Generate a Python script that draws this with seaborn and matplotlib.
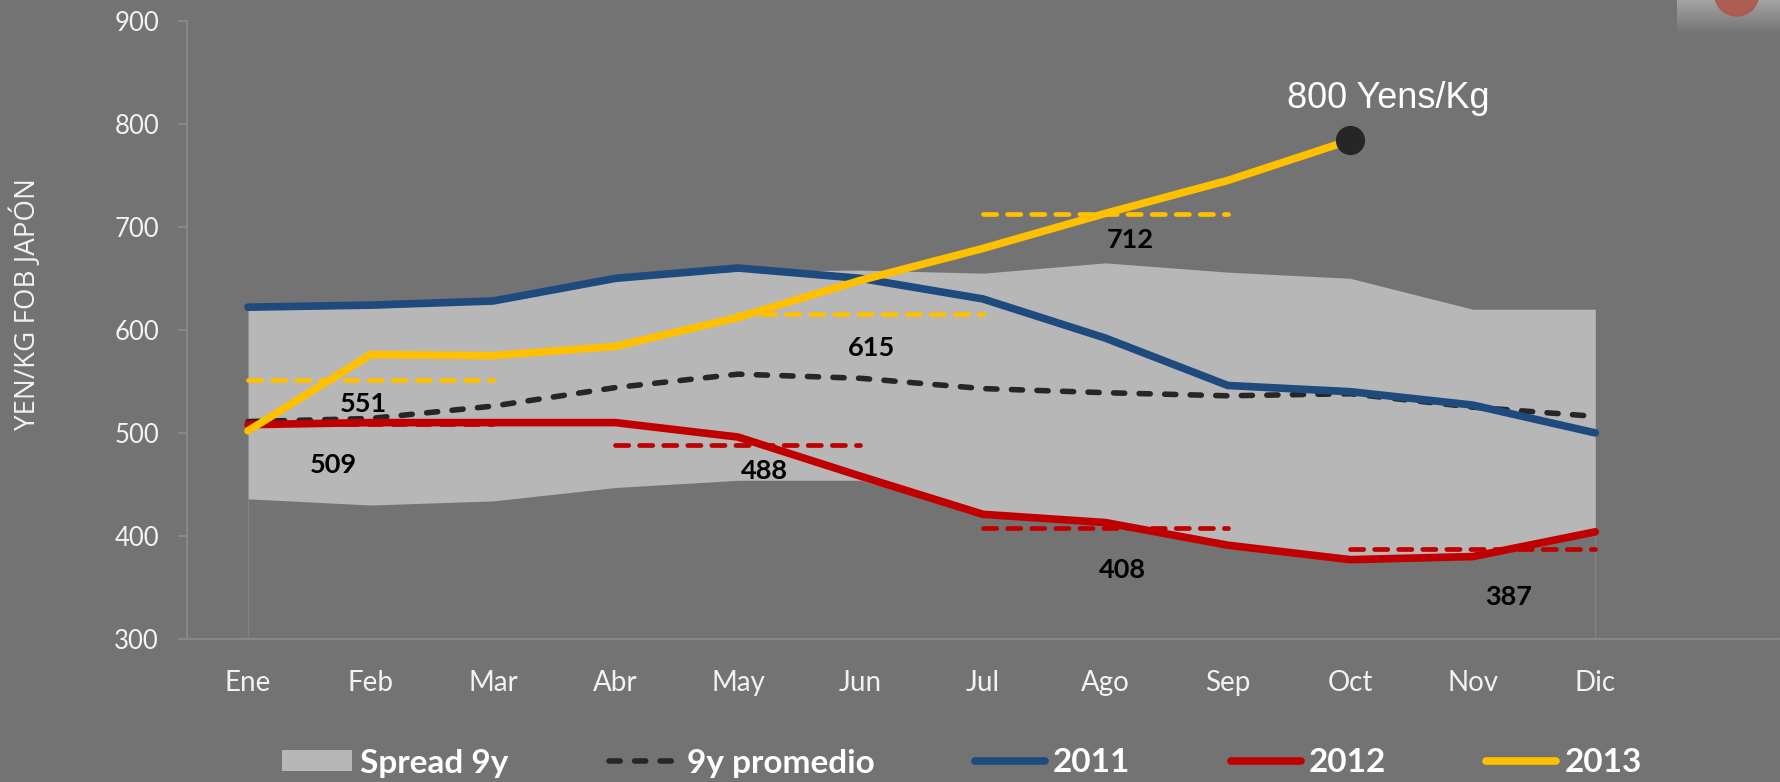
import numpy as np
import pandas as pd
import matplotlib
matplotlib.use("Agg")
import matplotlib.pyplot as plt
from matplotlib.lines import Line2D
from matplotlib.patches import Patch, Ellipse
import seaborn as sns

# ---------------- data ----------------
months = ["Ene", "Feb", "Mar", "Abr", "May", "Jun", "Jul", "Ago", "Sep", "Oct", "Nov", "Dic"]
spread_low = [436, 430, 434, 447, 454, 454, 421, 413, 390, 377, 380, 403]
spread_high = [620, 621, 626, 648, 657, 658, 655, 665, 656, 650, 620, 620]
prom_9y = [511, 514, 526, 544, 557, 553, 543, 539, 536, 538, 525, 516]
s2011 = [622, 624, 628, 650, 660, 650, 630, 592, 546, 540, 527, 500]
s2012 = [508, 510, 510, 510, 496, 458, 421, 413, 391, 377, 380, 404]
s2013 = [502, 576, 575, 584, 612, 648, 679, 713, 745, 784]
q2013 = [551, 615, 712]
q2012 = [509, 488, 408, 387]
last_label = "800 Yens/Kg"
ylabel = "YEN/KG FOB JAPÓN"
legend_labels = ["Spread 9y", "9y promedio", "2011", "2012", "2013"]
yticks = [300, 400, 500, 600, 700, 800, 900]

# ---------------- layout (positions / styles) ----------------
q2013_spans = [(0, 2), (4, 6), (6, 8)]
q2012_spans = [(0, 2), (3, 5), (6, 8), (9, 11)]
q2013_lbl_pos = [(0.94, 528), (5.09, 582), (7.2, 687)]
q2012_lbl_pos = [(0.70, 469), (4.22, 463), (7.14, 367), (10.29, 341)]

BG = "#737373"
SPREAD = "#b7b7b7"
BLUE = "#1f4a7e"
RED = "#c00000"
YEL = "#ffc000"
DARK = "#262626"
AXC = "#8c8c8c"
TXT = "#f2f2f2"
LW = 5.5

sns.set_style("white")
plt.rcParams["font.family"] = ["Lato", "DejaVu Sans"]

fig = plt.figure(figsize=(17.8, 7.82), dpi=100, facecolor=BG)
ax = fig.add_axes([186.8 / 1780, 143 / 782, (1779 - 186.8) / 1780, (639 - 20.7) / 782])
ax.set_facecolor(BG)

idx = np.arange(len(months))
df = pd.DataFrame({"x": idx, "low": spread_low, "high": spread_high,
                   "prom": prom_9y, "s2011": s2011, "s2012": s2012})
df13 = pd.DataFrame({"x": idx[:len(s2013)], "v": s2013})

# spread band
ax.fill_between(df["x"], df["low"], df["high"], color=SPREAD, lw=0, zorder=1)
ax.vlines([idx[0], idx[-1]], 300, [spread_low[0], spread_low[-1]], color="#828282", lw=1, zorder=1)

# 9y average
sns.lineplot(data=df, x="x", y="prom", ax=ax, color=DARK, lw=4.0, zorder=3)
ax.lines[-1].set_dashes([2.0, 2.6])
ax.lines[-1].set_dash_capstyle("round")

# quarterly means
for v, (a, b) in zip(q2012, q2012_spans):
    ax.plot([a, b], [v, v], color=RED, lw=3.4, dashes=[2.8, 2.3], dash_capstyle="round", zorder=2.5)
for v, (a, b) in zip(q2013, q2013_spans):
    ax.plot([a, b], [v, v], color=YEL, lw=3.4, dashes=[2.8, 2.3], dash_capstyle="round", zorder=2.5)

sns.lineplot(data=df, x="x", y="s2011", ax=ax, color=BLUE, lw=LW, zorder=4)
sns.lineplot(data=df, x="x", y="s2012", ax=ax, color=RED, lw=LW, zorder=4)
sns.lineplot(data=df13, x="x", y="v", ax=ax, color=YEL, lw=LW, zorder=5)
for ln in ax.lines:
    ln.set_solid_capstyle("round")

# end marker
ax.plot([df13["x"].iloc[-1]], [s2013[-1]], "o", ms=20, color=DARK, zorder=6)
ax.text(9.31, 815, last_label, color="white", fontsize=26, ha="center", va="baseline",
        family=["Liberation Sans", "DejaVu Sans"], zorder=7)

# quarter labels
for v, (x, y) in zip(q2013, q2013_lbl_pos):
    ax.text(x, y, f"{v}", fontsize=19.5, fontweight="bold", color="black", ha="center", va="center", zorder=7)
for v, (x, y) in zip(q2012, q2012_lbl_pos):
    ax.text(x, y, f"{v}", fontsize=19.5, fontweight="bold", color="black", ha="center", va="center", zorder=7)

# axes
ax.set_xlim(-0.5, 12.5)
ax.set_ylim(300, 900)
ax.set_yticks(yticks)
ax.set_yticklabels([str(t) for t in yticks])
ax.set_xticks(idx)
ax.set_xticklabels(months)
ax.set_xticks(np.arange(-0.5, 12.6, 1), minor=True)
ax.tick_params(axis="x", which="major", length=0, pad=22, colors=TXT, labelsize=20)
ax.tick_params(axis="x", which="minor", length=6.5, width=1.2, color=AXC, direction="out")
ax.tick_params(axis="y", which="major", length=6.5, width=1.2, color=AXC, pad=13.5,
               labelcolor=TXT, labelsize=18.5, left=True)
ax.set_xlabel("")
ax.set_ylabel("")
for s in ["top", "right"]:
    ax.spines[s].set_visible(False)
for s in ["left", "bottom"]:
    ax.spines[s].set_visible(True)
    ax.spines[s].set_color(AXC)
    ax.spines[s].set_linewidth(1.2)
ax.grid(False)

fig.text(26.7 / 1780, 1 - 304 / 782, ylabel, rotation=90, ha="center", va="center",
         color=TXT, fontsize=20, family=["Open Sans", "DejaVu Sans"])

# legend
handles = [
    Patch(facecolor=SPREAD, edgecolor="none"),
    Line2D([], [], color=DARK, lw=4.0, dashes=[2.0, 2.6], dash_capstyle="round"),
    Line2D([], [], color=BLUE, lw=LW, solid_capstyle="round"),
    Line2D([], [], color=RED, lw=LW, solid_capstyle="round"),
    Line2D([], [], color=YEL, lw=LW, solid_capstyle="round"),
]
leg = fig.legend(handles, legend_labels, loc="center", bbox_to_anchor=(962 / 1780, 1 - 763 / 782),
                 ncol=5, frameon=False, handlelength=2.1, handleheight=0.6, handletextpad=0.25,
                 columnspacing=3.0, prop={"family": "Lato", "weight": "bold", "size": 24})
for t in leg.get_texts():
    t.set_color("white")

# top-right decoration
deco = fig.add_axes([1677 / 1780, 1 - 34 / 782, 103 / 1780, 34 / 782])
grad = np.linspace(0, 1, 50)[:, None] * np.ones((1, 50))
rgba = np.zeros((50, 50, 4))
rgba[..., :3] = 0.80
rgba[..., 3] = (1 - grad) * 0.55
deco.imshow(rgba, aspect="auto", extent=[0, 1, 0, 1], origin="upper")
deco.add_patch(Ellipse((0.58, 1 + 6 / 34), 44 / 103, 44 / 34, transform=deco.transAxes,
                       color="#b0574b", alpha=0.9, clip_on=False))
deco.set_xlim(0, 1); deco.set_ylim(0, 1)
deco.axis("off")

fig.savefig("out.png", dpi=100, facecolor=BG)
